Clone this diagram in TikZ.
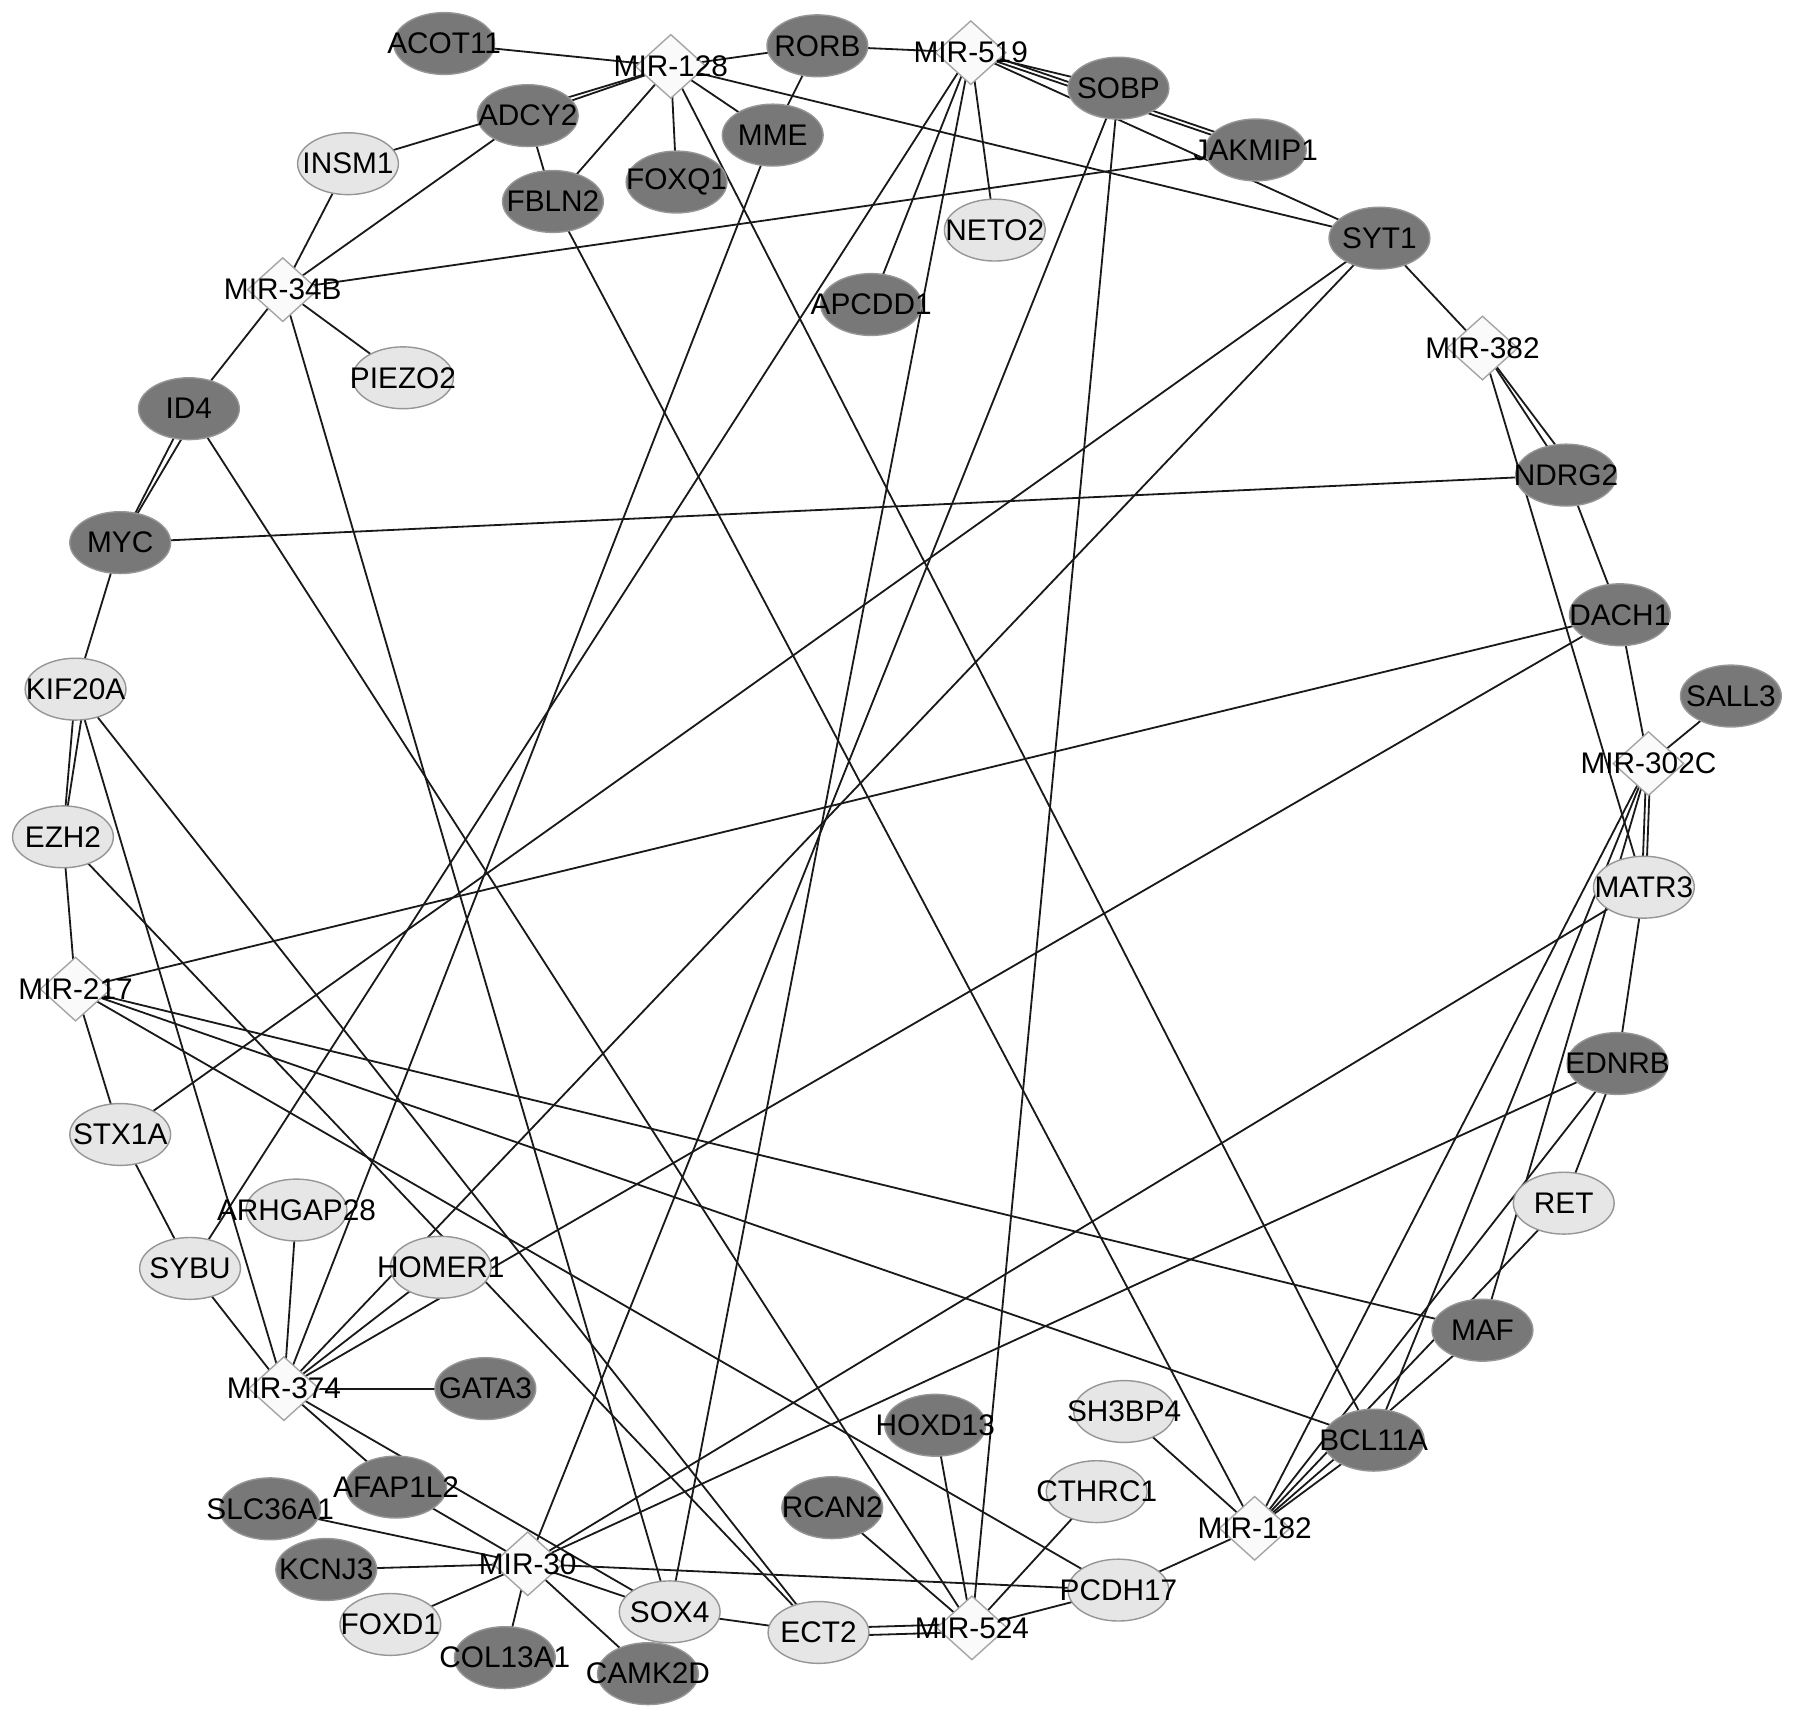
\documentclass[tikz,border=0pt]{standalone}
\usepackage{fontspec}
\setmainfont{Liberation Sans}
\usetikzlibrary{shapes.geometric}
\definecolor{dkfill}{RGB}{120,120,120}
\definecolor{dkline}{RGB}{150,150,150}
\definecolor{ltfill}{RGB}{230,230,230}
\definecolor{ltline}{RGB}{150,150,150}
\definecolor{dmfill}{RGB}{250,250,250}
\definecolor{dmline}{RGB}{165,165,165}
\definecolor{edgecol}{RGB}{25,25,25}
\pgfdeclarelayer{bg}
\pgfsetlayers{bg,main}
\tikzset{
  gene/.style={ellipse, minimum width=0.88cm, minimum height=0.54cm, inner sep=0pt, line width=0.35pt},
  dk/.style={gene, fill=dkfill, draw=dkline},
  lt/.style={gene, fill=ltfill, draw=ltline},
  mir/.style={diamond, minimum width=0.62cm, minimum height=0.56cm, inner sep=0pt, fill=dmfill, draw=dmline, line width=0.35pt},
  txt/.style={font=\fontsize{7.4}{8}\selectfont, inner sep=0pt, text=black},
  edge/.style={draw=edgecol, line width=0.45pt},
}
\newcommand{\gnode}[5]{\node[#1, label={[txt,name=#2-t]center:#5}] (#2) at (#3,#4) {};}
\newcommand{\edg}[2]{\draw[edge] (#1.center) -- (#2.center);}
\begin{document}
\begin{tikzpicture}[x=0.01cm,y=-0.01cm]
\useasboundingbox (0,0) rectangle (1568,1502);
\gnode{dk}{acot}{388}{38}{ACOT11}
\gnode{mir}{m128}{586}{58}{MIR-128}
\gnode{dk}{rorb}{714}{40}{RORB}
\gnode{mir}{m519}{848}{46}{MIR-519}
\gnode{dk}{sobp}{977}{77}{SOBP}
\gnode{dk}{adcy}{461}{101}{ADCY2}
\gnode{lt}{insm}{304}{143}{INSM1}
\gnode{dk}{mme}{675}{118}{MME}
\gnode{dk}{foxq}{591}{159}{FOXQ1}
\gnode{dk}{fbln}{483}{176}{FBLN2}
\gnode{dk}{jak}{1097}{131}{JAKMIP1}
\gnode{lt}{neto}{869}{201}{NETO2}
\gnode{dk}{syt}{1205}{208}{SYT1}
\gnode{dk}{apc}{761}{266}{APCDD1}
\gnode{mir}{m34}{247}{253}{MIR-34B}
\gnode{lt}{piezo}{352}{330}{PIEZO2}
\gnode{mir}{m382}{1295}{304}{MIR-382}
\gnode{dk}{id4}{165}{357}{ID4}
\gnode{dk}{ndrg}{1368}{415}{NDRG2}
\gnode{dk}{myc}{105}{474}{MYC}
\gnode{dk}{dach}{1415}{537}{DACH1}
\gnode{lt}{kif}{66}{602}{KIF20A}
\gnode{dk}{sall}{1512}{608}{SALL3}
\gnode{mir}{m302}{1440}{667}{MIR-302C}
\gnode{lt}{ezh}{55}{731}{EZH2}
\gnode{lt}{matr}{1436}{775}{MATR3}
\gnode{mir}{m217}{66}{864}{MIR-217}
\gnode{dk}{ednrb}{1413}{929}{EDNRB}
\gnode{lt}{stx}{105}{991}{STX1A}
\gnode{lt}{ret}{1366}{1051}{RET}
\gnode{lt}{arh}{259}{1057}{ARHGAP28}
\gnode{lt}{sybu}{166}{1108}{SYBU}
\gnode{lt}{homer}{385}{1107}{HOMER1}
\gnode{dk}{maf}{1295}{1162}{MAF}
\gnode{mir}{m374}{248}{1213}{MIR-374}
\gnode{dk}{gata}{424}{1213}{GATA3}
\gnode{dk}{hoxd}{817}{1245}{HOXD13}
\gnode{lt}{sh3}{982}{1233}{SH3BP4}
\gnode{dk}{bcl}{1200}{1258}{BCL11A}
\gnode{dk}{afap}{346}{1299}{AFAP1L2}
\gnode{dk}{slc}{236}{1318}{SLC36A1}
\gnode{lt}{cthrc}{958}{1303}{CTHRC1}
\gnode{dk}{rcan}{727}{1317}{RCAN2}
\gnode{mir}{m182}{1096}{1335}{MIR-182}
\gnode{dk}{kcnj}{285}{1371}{KCNJ3}
\gnode{mir}{m30}{461}{1366}{MIR-30}
\gnode{lt}{pcdh}{977}{1389}{PCDH17}
\gnode{lt}{foxd}{341}{1419}{FOXD1}
\gnode{lt}{sox}{585}{1408}{SOX4}
\gnode{lt}{ect}{715}{1426}{ECT2}
\gnode{mir}{m524}{849}{1422}{MIR-524}
\gnode{dk}{col}{441}{1448}{COL13A1}
\gnode{dk}{camk}{566}{1462}{CAMK2D}
\begin{pgfonlayer}{bg}
\edg{acot}{m128}
\edg{m128}{rorb}
\edg{m128}{adcy}
\edg{m128}{insm}
\edg{m128}{fbln}
\edg{m128}{foxq}
\edg{m128}{mme}
\edg{m128}{bcl}
\edg{m128}{syt}
\edg{rorb}{m519}
\edg{rorb}{mme}
\edg{m519}{sobp}
\edg{m519}{jak}
\draw[edge] ([yshift=1pt]m519.center) -- ([yshift=1pt]jak.center);
\edg{m519}{syt}
\edg{m519}{neto}
\edg{m519}{apc}
\edg{m519}{sybu}
\edg{m519}{sox}
\edg{sobp}{m30}
\edg{sobp}{m524}
\edg{m34}{insm}
\edg{m34}{adcy}
\edg{m34}{jak}
\edg{m34}{piezo}
\edg{m34}{id4}
\edg{m34}{sox}
\edg{adcy}{fbln}
\edg{fbln}{m182}
\edg{mme}{m374}
\edg{syt}{m382}
\edg{syt}{stx}
\edg{syt}{m374}
\edg{m382}{ndrg}
\draw[edge] (m382.center) -- ([xshift=3pt]ndrg.center);
\edg{m382}{matr}
\edg{ndrg}{myc}
\edg{ndrg}{dach}
\edg{dach}{m302}
\edg{dach}{m217}
\edg{dach}{m374}
\edg{m302}{sall}
\draw[edge] ([xshift=-0.5pt]m302.center) -- ([xshift=-0.5pt]matr.center);
\draw[edge] ([xshift=0.5pt]m302.center) -- ([xshift=0.5pt]matr.center);
\edg{m302}{bcl}
\edg{m302}{m182}
\edg{m302}{maf}
\edg{matr}{ednrb}
\edg{matr}{m30}
\edg{ednrb}{ret}
\edg{ednrb}{m182}
\edg{ednrb}{m30}
\edg{ret}{m182}
\edg{maf}{m182}
\edg{maf}{m217}
\edg{bcl}{m182}
\edg{bcl}{m217}
\edg{id4}{myc}
\draw[edge] ([xshift=2.6pt]id4.center) -- (myc.center);
\edg{id4}{m524}
\edg{myc}{kif}
\edg{kif}{ezh}
\draw[edge] ([xshift=2.6pt]kif.center) -- (ezh.center);
\edg{kif}{m374}
\edg{kif}{ect}
\edg{ezh}{m217}
\edg{ezh}{ect}
\edg{m217}{stx}
\edg{m217}{pcdh}
\edg{stx}{sybu}
\edg{sybu}{m374}
\edg{arh}{m374}
\edg{homer}{m374}
\edg{gata}{m374}
\edg{m374}{afap}
\edg{m374}{sox}
\edg{afap}{m30}
\edg{slc}{m30}
\edg{kcnj}{m30}
\edg{foxd}{m30}
\edg{col}{m30}
\edg{camk}{m30}
\edg{m30}{sox}
\edg{m30}{pcdh}
\edg{sox}{ect}
\draw[edge] ([yshift=1pt]ect.center) -- ([yshift=1pt]m524.center);
\draw[edge] ([yshift=-1pt]ect.center) -- ([yshift=-1pt]m524.center);
\edg{m524}{pcdh}
\edg{m524}{cthrc}
\edg{m524}{hoxd}
\edg{m524}{rcan}
\edg{pcdh}{m182}
\edg{sh3}{m182}
\end{pgfonlayer}
\end{tikzpicture}
\end{document}
